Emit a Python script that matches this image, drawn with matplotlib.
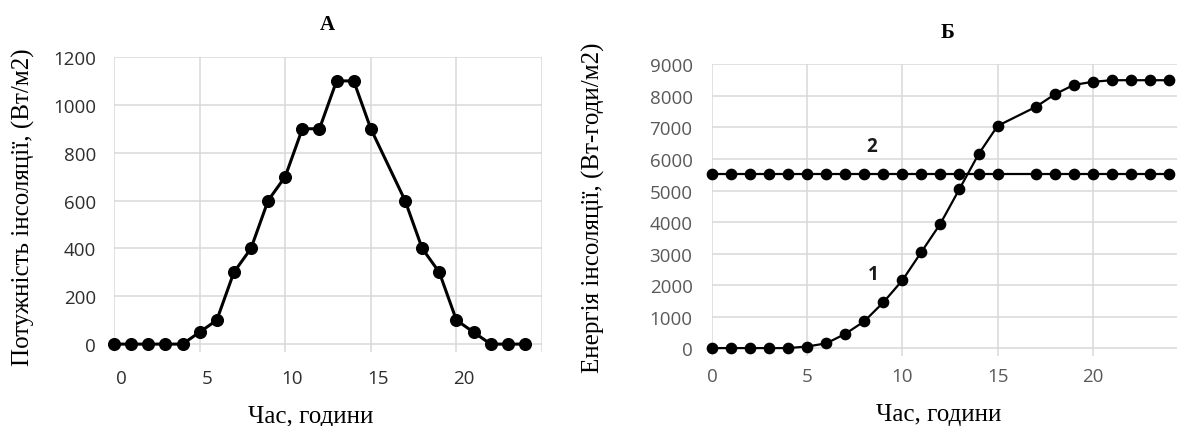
import numpy as np
import matplotlib
matplotlib.use('Agg')
import matplotlib.pyplot as plt
from matplotlib.transforms import ScaledTranslation

# Дані (година 16 відсутня на обох графіках)
hours = [0, 1, 2, 3, 4, 5, 6, 7, 8, 9, 10, 11, 12, 13, 14, 15,
         17, 18, 19, 20, 21, 22, 23, 24]
power = [0, 0, 0, 0, 0, 50, 100, 300, 400, 600, 700, 900, 900, 1100, 1100, 900,
         600, 400, 300, 100, 50, 0, 0, 0]
energy = [0, 0, 0, 0, 0, 50, 150, 450, 850, 1450, 2150, 3050, 3950, 5050, 6150, 7050,
          7650, 8050, 8350, 8450, 8500, 8500, 8500, 8500]
level = [5540] * len(hours)

x_ticks = [0, 5, 10, 15, 20]
power_ticks = [0, 200, 400, 600, 800, 1000, 1200]
energy_ticks = [0, 1000, 2000, 3000, 4000, 5000, 6000, 7000, 8000, 9000]

SERIF = ['Liberation Serif', 'DejaVu Serif']
SANS = ['Open Sans', 'DejaVu Sans']
GRID = '#d9d9d9'

fig = plt.figure(figsize=(11.77, 4.27), dpi=100)

# --- A: потужність ---
ax1 = fig.add_axes([0.0969, 0.1733, 0.3636, 0.6909])
ax1.plot(hours, power, color='black', linewidth=2.2, marker='o',
         markersize=8.4, clip_on=False, zorder=3)
ax1.set_xlim(0, 25)
ax1.set_ylim(-33, 1200)
ax1.set_xticks(x_ticks + [25])
ax1.set_xticklabels([str(t) for t in x_ticks] + [''])
ax1.set_yticks(power_ticks)
ax1.grid(True, color=GRID, linewidth=1.1)
ax1.set_axisbelow(True)
for s in ax1.spines.values():
    s.set_visible(False)
ax1.tick_params(axis='both', length=0, labelsize=13.5, labelcolor='#2e2e2e')
ax1.tick_params(axis='y', pad=13)
ax1.tick_params(axis='x', pad=12)
for lab in ax1.get_xticklabels() + ax1.get_yticklabels():
    lab.set_family(SANS)
# підписи осі X трохи зсунуті праворуч, як в оригіналі
shift = ScaledTranslation(0.07, 0, fig.dpi_scale_trans)
for lab in ax1.get_xticklabels():
    lab.set_transform(lab.get_transform() + shift)

fig.text(327 / 1177, 1 - 25 / 427, 'A', ha='center', va='center',
         family=SERIF, fontsize=15, fontweight='bold')
fig.text(23 / 1177, 1 - 207 / 427, 'Потужність інсоляції, (Вт/м2)', rotation=90,
         ha='center', va='center', family=SERIF, fontsize=18)
fig.text(311 / 1177, 1 - 417 / 427, 'Час, години', ha='center', va='center',
         family=SERIF, fontsize=18)

# --- Б: енергія ---
ax2 = fig.add_axes([0.6049, 0.164, 0.4044, 0.6827])
ax2.plot(hours, energy, color='black', linewidth=1.6, marker='o',
         markersize=7.4, clip_on=False, zorder=3)
ax2.plot(hours, level, color='black', linewidth=1.6, marker='o',
         markersize=7.4, clip_on=False, zorder=3)
ax2.set_xlim(0, 25)
ax2.set_ylim(-250, 9000)
ax2.set_xticks(x_ticks + [25])
ax2.set_xticklabels([str(t) for t in x_ticks] + [''])
ax2.set_yticks(energy_ticks)
ax2.grid(True, color=GRID, linewidth=1.1)
ax2.set_axisbelow(True)
for s in ax2.spines.values():
    s.set_visible(False)
ax2.tick_params(axis='both', length=0, labelsize=13.5, labelcolor='#595959')
ax2.tick_params(axis='y', pad=14)
ax2.tick_params(axis='x', pad=8)
for lab in ax2.get_xticklabels() + ax2.get_yticklabels():
    lab.set_family(SANS)

ax2.text(8.4, 6410, '2', ha='center', va='center', family=SANS,
         fontsize=13.5, fontweight='bold', color='#1a1a1a')
ax2.text(8.45, 2350, '1', ha='center', va='center', family=SANS,
         fontsize=13.5, fontweight='bold', color='#1a1a1a')

fig.text(948 / 1177, 1 - 33 / 427, 'Б', ha='center', va='center',
         family=SERIF, fontsize=15, fontweight='bold')
fig.text(593 / 1177, 1 - 208 / 427, 'Енергія інсоляції, (Вт-годи/м2)', rotation=90,
         ha='center', va='center', family=SERIF, fontsize=18)
fig.text(939 / 1177, 1 - 415 / 427, 'Час, години', ha='center', va='center',
         family=SERIF, fontsize=18)

fig.savefig('out.png', dpi=100)
